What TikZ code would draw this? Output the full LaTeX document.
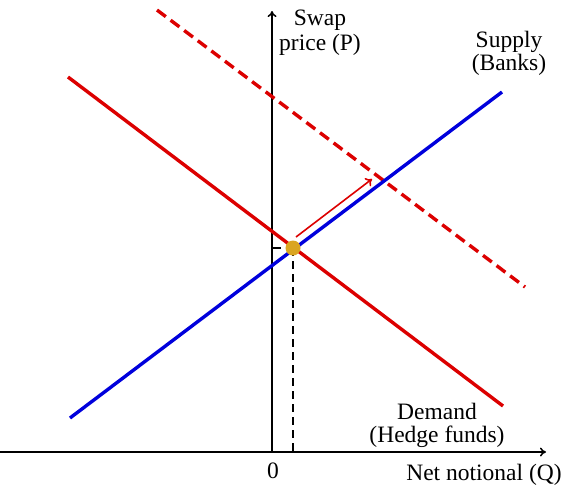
\documentclass[tikz,border=0pt]{standalone}
\usepackage{fontspec}
\setmainfont{Liberation Serif}
\usetikzlibrary{arrows.meta}
\definecolor{curvered}{RGB}{220,0,0}
\definecolor{curveblue}{RGB}{0,0,220}
\definecolor{eqgold}{RGB}{218,165,32}
\tikzset{
  axisline/.style={line width=1.5pt,-{To[length=6pt,width=9pt]}},
  curve/.style={line width=3.4pt},
  lbl/.style={align=center,font=\fontsize{23.5}{23}\selectfont,inner sep=0pt,anchor=base},
  guide/.style={line width=1.2pt,dash pattern=on 8pt off 5pt}
}
\begin{document}
\begin{tikzpicture}[x=1pt,y=-1pt]
\useasboundingbox (0,0) rectangle (565,485);
% axes
\coordinate (xa0) at (0,452);
\coordinate (xa1) at (546,452);
\coordinate (ya0) at (272,452);
\coordinate (ya1) at (272,11);
\draw[axisline] (xa0) -- (xa1);
\draw[axisline] (ya0) -- (ya1);
% curves
\coordinate (s0) at (70,418);
\coordinate (s1) at (502,92);
\coordinate (d0) at (68,77);
\coordinate (d1) at (503,406);
\coordinate (n0) at (157,10);
\coordinate (n1) at (525,287);
\draw[curve,curvered] (d0) -- (d1);
\draw[curve,curvered,dash pattern=on 11pt off 6pt] (n0) -- (n1);
\draw[curve,curveblue] (s0) -- (s1);
% equilibrium
\coordinate (eq) at (293,248);
\coordinate (eqx) at (293,452);
\coordinate (eqy) at (272,248);
\draw[guide] (eq) -- (eqx);
\draw[guide,dash pattern=on 9pt off 30pt] (eqy) -- (eq);
\node[circle,fill=eqgold,minimum size=15pt,inner sep=0pt] (eqdot) at (eq) {};
% shift arrow
\coordinate (a0) at (296,237);
\coordinate (a1) at (372,179);
\draw[curvered,line width=1.6pt,-{To[length=6pt,width=10pt]}] (a0) -- (a1);
% labels
\node[lbl] (swap) at (320,50) {Swap\\[2pt]price (P)};
\node[lbl] (supply) at (509,70) {Supply\\(Banks)};
\node[lbl] (demand) at (437,442) {Demand\\(Hedge funds)};
\node[lbl] (netq) at (484,480) {Net notional (Q)};
\node[lbl] (zero) at (273,478) {0};
\end{tikzpicture}
\end{document}
